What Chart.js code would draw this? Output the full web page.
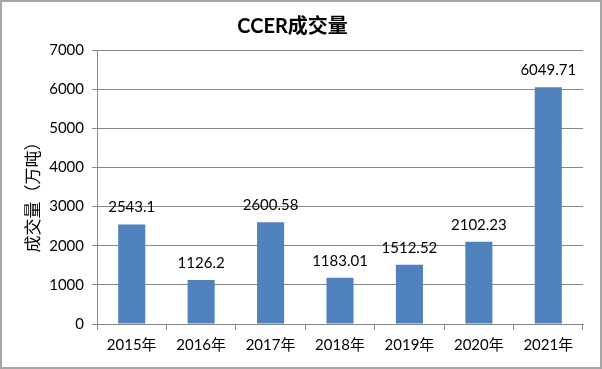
<!DOCTYPE html>
<html><head><meta charset="utf-8">
<script src="https://cdn.jsdelivr.net/npm/chart.js@4/dist/chart.umd.min.js"></script>
<style>
html,body{margin:0;padding:0;background:#fff;}
#wrap{width:602px;height:369px;box-sizing:border-box;border:2px solid #a6a6a6;position:relative;}
canvas{display:block;}
</style></head>
<body>
<div id="wrap"><canvas id="c" width="598" height="365"></canvas></div>
<script>
const categories = ["2015年","2016年","2017年","2018年","2019年","2020年","2021年"];
const volumes = [2543.1, 1126.2, 2600.58, 1183.01, 1512.52, 2102.23, 6049.71];
const chartTitle = "CCER成交量";
const yTitle = "成交量（万吨）";

const FONT = 'Lato, "Noto Sans CJK SC", sans-serif';

const labelPlugin = {
  id: 'valueLabels',
  afterDatasetsDraw(chart) {
    const ctx = chart.ctx;
    const meta = chart.getDatasetMeta(0);
    ctx.save();
    ctx.font = '15px ' + FONT;
    ctx.fillStyle = '#000';
    ctx.textAlign = 'center';
    ctx.textBaseline = 'middle';
    meta.data.forEach((bar, i) => {
      ctx.fillText(String(chart.data.datasets[0].data[i]), bar.x, bar.y - 17);
    });
    ctx.restore();
  }
};

const yTitlePlugin = {
  id: 'yTitle',
  afterDraw(chart) {
    const ctx = chart.ctx;
    const a = chart.chartArea;
    ctx.save();
    ctx.font = '17px "Noto Sans CJK SC", sans-serif';
    ctx.fillStyle = '#000';
    ctx.textAlign = 'center';
    ctx.textBaseline = 'middle';
    ctx.translate(31, (a.top + a.bottom) / 2 + 6);
    ctx.rotate(-Math.PI / 2);
    ctx.fillText(yTitle, 0, 0);
    ctx.restore();
  }
};

new Chart(document.getElementById('c'), {
  type: 'bar',
  data: {
    labels: categories,
    datasets: [{
      data: volumes,
      backgroundColor: '#4f81bd',
      borderWidth: 0,
      categoryPercentage: 1,
      barPercentage: 0.39
    }]
  },
  options: {
    responsive: false,
    animation: false,
    devicePixelRatio: 1,
    layout: { padding: { top: 0, right: 17, bottom: 0, left: 0 } },
    plugins: {
      legend: { display: false },
      tooltip: { enabled: false },
      title: {
        display: true,
        text: chartTitle,
        color: '#000',
        font: { family: FONT, size: 20, weight: 'bold' },
        padding: { top: 13, bottom: 11 }
      }
    },
    scales: {
      x: {
        grid: { offset: true, drawOnChartArea: false, color: '#868686', tickLength: 6 },
        border: { color: '#868686', width: 1 },
        ticks: { color: '#000', font: { family: FONT, size: 15 }, padding: 6, maxRotation: 0 },
        afterFit(s) { s.height = 43; }
      },
      y: {
        min: 0, max: 7000,
        grid: { color: '#868686', tickLength: 5 },
        border: { color: '#868686', width: 1 },
        ticks: { stepSize: 1000, color: '#000', font: { family: FONT, size: 15 }, padding: 8,
                 callback: v => String(v) },
        afterFit(s) { s.width = 95; }
      }
    }
  },
  plugins: [labelPlugin, yTitlePlugin]
});
</script>
</body></html>
